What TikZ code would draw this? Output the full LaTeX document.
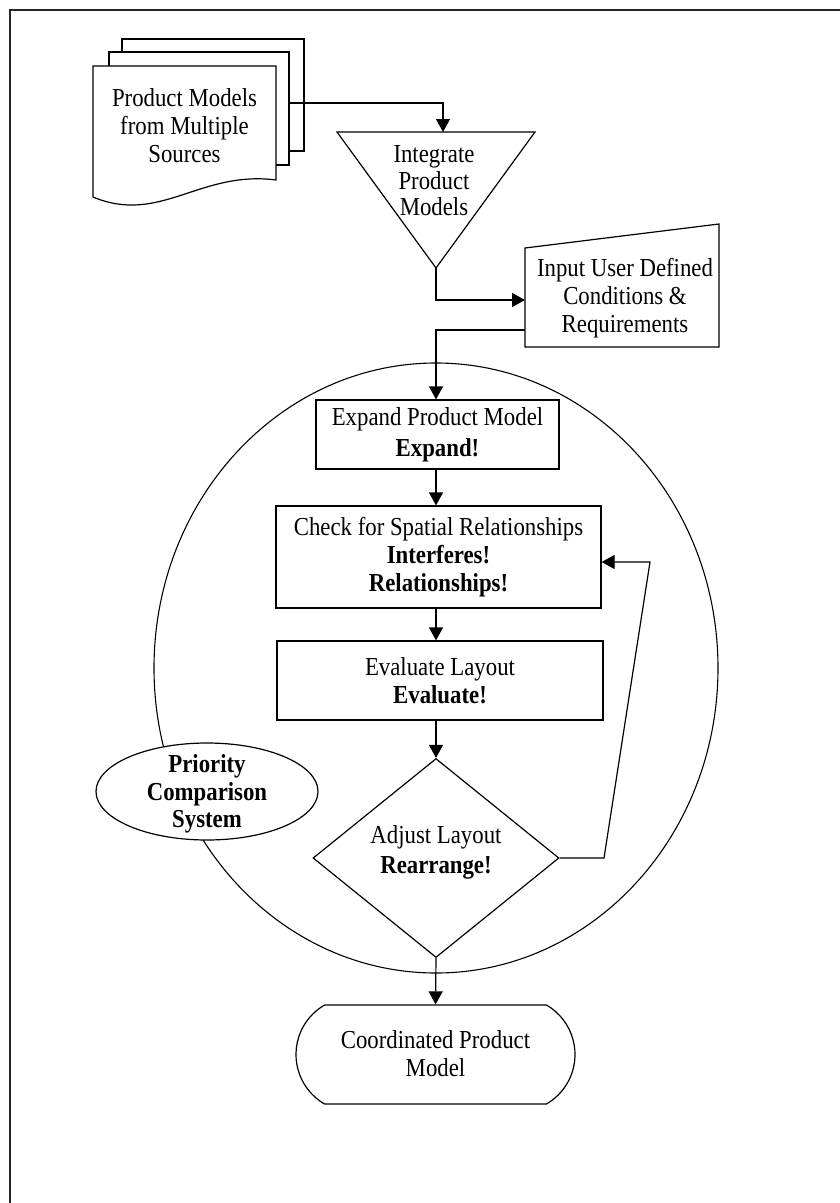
\documentclass[tikz,border=0pt]{standalone}
\usepackage{fontspec}
\setmainfont{Liberation Serif}[FakeStretch=0.88]
\usetikzlibrary{arrows.meta,shapes.geometric,shapes.misc}
\begin{document}
\begin{tikzpicture}[x=1pt,y=-1pt,
  every node/.style={font=\fontsize{25.9}{28}\selectfont, align=center, inner sep=0pt},
  outline/.style={draw=black, line width=1.2pt},
  procbox/.style={outline, rectangle, fill=white},
  flow/.style={line width=1.2pt, -{Triangle[length=13pt,width=14pt]}},
]
\useasboundingbox (0,0) rectangle (840,1203);

% page frame
\draw[line width=2pt, draw=black!85] (10,1203) -- (10,10) -- (840,10);

% stacked documents
\draw[outline, fill=white] (122,39) rectangle (304,151);
\draw[outline, fill=white] (109,52) rectangle (289,165);
\draw[outline, fill=white] (93,197) -- (93,66) -- (276,66) -- (276,180)
  .. controls (200,170) and (160,225) .. (93,197) -- cycle;
\node (docs) at (184.5,126) {Product Models\\from Multiple\\Sources};
\coordinate (docs-out) at (289,103);

% merge triangle
\draw[outline, fill=white] (337,132) -- (535,132) -- (436,268) -- cycle;
\node[font=\fontsize{25.9}{26.5}\selectfont] (integ) at (434,181) {Integrate\\Product\\Models};
\coordinate (integ-top) at (443,132);
\coordinate (integ-tip) at (436,268);

% manual input
\draw[outline, fill=white] (525,248) -- (719,224) -- (719,347) -- (525,347) -- cycle;
\node (input) at (625,298) {Input User Defined\\Conditions \&\\Requirements};
\coordinate (input-in) at (525,300);
\coordinate (input-out) at (525,330);

% iteration loop
\node[outline, line width=1.1pt, ellipse, minimum width=564pt, minimum height=610pt] (loopring) at (436,668) {};

% priority system
\node[outline, ellipse, fill=white, minimum width=222pt, minimum height=97pt] (priority) at (207,791.5) {};
\node[font=\fontsize{25.9}{27.5}\selectfont\bfseries] (priority-text) at (207,794) {Priority\\Comparison\\System};

% process steps
\coordinate (axis) at (436,0);
\node[procbox, minimum width=243pt, minimum height=69pt] (expand) at (437.5,434.5)
  {Expand Product Model\\[3pt]\textbf{Expand!}};
\node[procbox, minimum width=325pt, minimum height=102pt] (check) at (438.5,557)
  {Check for Spatial Relationships\\\textbf{Interferes!}\\\textbf{Relationships!}};
\node[procbox, minimum width=326pt, minimum height=79pt] (evaluate) at (440,680.5)
  {Evaluate Layout\\\textbf{Evaluate!}};
\node[outline, diamond, fill=white, minimum width=246pt, minimum height=199pt] (adjust) at (436,858) {};
\node[font=\fontsize{25.9}{30}\selectfont] (adjust-text) at (436,852) {Adjust Layout\\\textbf{Rearrange!}};
\coordinate (fb-a) at (604,858);
\coordinate (fb-b) at (650,562);

% terminator
\node[outline, rounded rectangle, rounded rectangle arc length=120, fill=white,
  minimum width=279pt, minimum height=99pt] (final) at (435.5,1054.5) {};
\node (final-text) at (435.5,1054) {Coordinated Product\\Model};

% connectors
\draw[flow] (docs-out) -| (integ-top);
\draw[flow] (integ-tip) |- (input-in);
\draw[flow] (input-out) -| (axis |- expand.north);
\draw[flow] (axis |- expand.south) -- (axis |- check.north);
\draw[flow] (axis |- check.south) -- (axis |- evaluate.north);
\draw[flow] (axis |- evaluate.south) -- (adjust.north);
\draw[flow] (adjust.east) -- (fb-a) -- (fb-b) -- (check.east |- fb-b);
\draw[flow] (adjust.south) -- (final.north);
\end{tikzpicture}
\end{document}
